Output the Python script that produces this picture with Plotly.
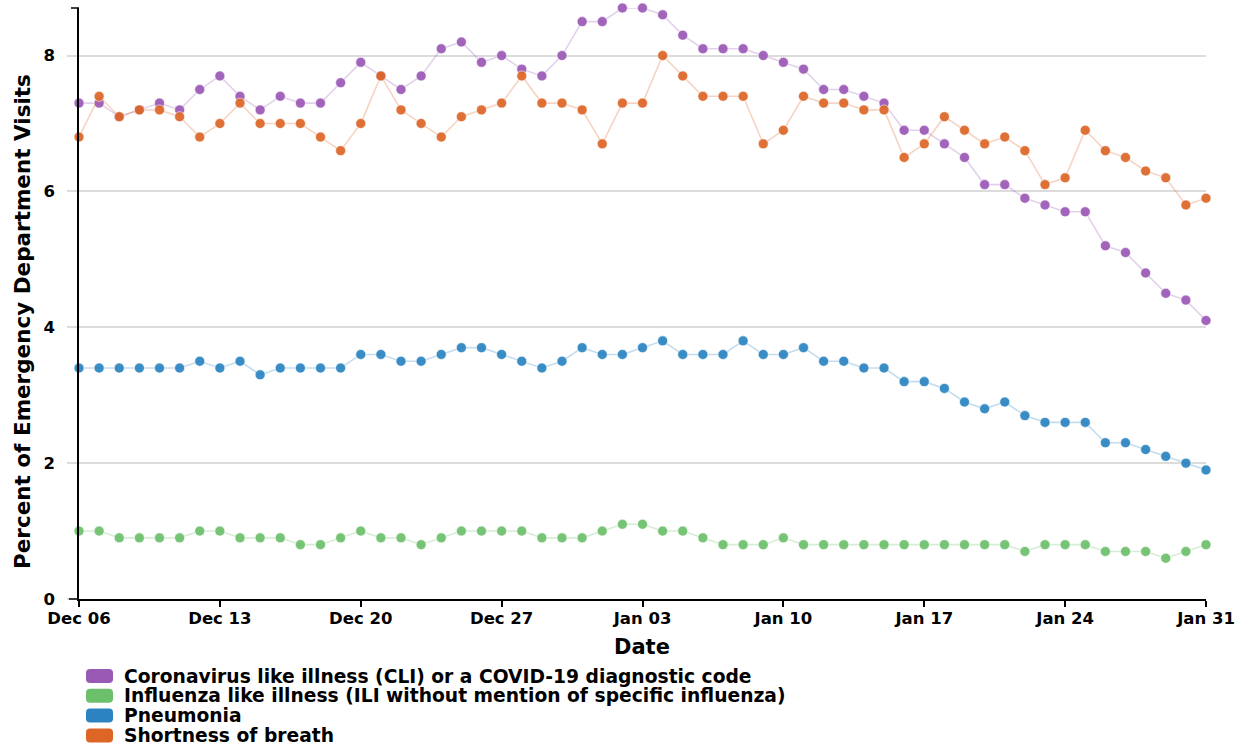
import pandas as pd
import plotly.graph_objects as go

# daily dates, Dec 06 to Jan 31
start_date = "2020-12-06"
end_date = "2021-01-31"
dates = pd.date_range(start_date, end_date, freq="D")

cli = [7.3, 7.3, 7.1, 7.2, 7.3, 7.2, 7.5, 7.7, 7.4, 7.2,
       7.4, 7.3, 7.3, 7.6, 7.9, 7.7, 7.5, 7.7, 8.1, 8.2,
       7.9, 8.0, 7.8, 7.7, 8.0, 8.5,
       8.5, 8.7, 8.7, 8.6, 8.3, 8.1, 8.1, 8.1, 8.0, 7.9,
       7.8, 7.5, 7.5, 7.4, 7.3, 6.9, 6.9, 6.7, 6.5, 6.1,
       6.1, 5.9, 5.8, 5.7, 5.7, 5.2, 5.1, 4.8, 4.5, 4.4,
       4.1]
ili = [1.0, 1.0, 0.9, 0.9, 0.9, 0.9, 1.0, 1.0, 0.9, 0.9,
       0.9, 0.8, 0.8, 0.9, 1.0, 0.9, 0.9, 0.8, 0.9, 1.0,
       1.0, 1.0, 1.0, 0.9, 0.9, 0.9,
       1.0, 1.1, 1.1, 1.0, 1.0, 0.9, 0.8, 0.8, 0.8, 0.9,
       0.8, 0.8, 0.8, 0.8, 0.8, 0.8, 0.8, 0.8, 0.8, 0.8,
       0.8, 0.7, 0.8, 0.8, 0.8, 0.7, 0.7, 0.7, 0.6, 0.7,
       0.8]
pneumonia = [3.4, 3.4, 3.4, 3.4, 3.4, 3.4, 3.5, 3.4, 3.5, 3.3,
             3.4, 3.4, 3.4, 3.4, 3.6, 3.6, 3.5, 3.5, 3.6, 3.7,
             3.7, 3.6, 3.5, 3.4, 3.5, 3.7,
             3.6, 3.6, 3.7, 3.8, 3.6, 3.6, 3.6, 3.8, 3.6, 3.6,
             3.7, 3.5, 3.5, 3.4, 3.4, 3.2, 3.2, 3.1, 2.9, 2.8,
             2.9, 2.7, 2.6, 2.6, 2.6, 2.3, 2.3, 2.2, 2.1, 2.0,
             1.9]
breath = [6.8, 7.4, 7.1, 7.2, 7.2, 7.1, 6.8, 7.0, 7.3, 7.0,
          7.0, 7.0, 6.8, 6.6, 7.0, 7.7, 7.2, 7.0, 6.8, 7.1,
          7.2, 7.3, 7.7, 7.3, 7.3, 7.2,
          6.7, 7.3, 7.3, 8.0, 7.7, 7.4, 7.4, 7.4, 6.7, 6.9,
          7.4, 7.3, 7.3, 7.2, 7.2, 6.5, 6.7, 7.1, 6.9, 6.7,
          6.8, 6.6, 6.1, 6.2, 6.9, 6.6, 6.5, 6.3, 6.2, 5.8,
          5.9]

names = ["Coronavirus like illness (CLI) or a COVID-19 diagnostic code",
         "Influenza like illness (ILI without mention of specific influenza)",
         "Pneumonia",
         "Shortness of breath"]
colors = ["#9B59B6", "#6CC06C", "#2B84C1", "#DD6627"]
line_colors = ["rgba(155,89,182,0.28)", "rgba(108,192,108,0.28)",
               "rgba(43,132,193,0.28)", "rgba(221,102,39,0.28)"]
series = [cli, ili, pneumonia, breath]

FONT = "DejaVu Sans"
W, H = 1247, 746
L, R, T, B = 79, 1206, 8, 599


def px_x(x):
    return (x - L) / (R - L)


def px_y(y):
    return (B - y) / (B - T)


def rounded_rect(x0, y0, x1, y1, r):
    # pixel box -> paper path with rounded corners
    pts = [
        f"M {px_x(x0 + r)},{px_y(y0)}",
        f"L {px_x(x1 - r)},{px_y(y0)}",
        f"Q {px_x(x1)},{px_y(y0)} {px_x(x1)},{px_y(y0 + r)}",
        f"L {px_x(x1)},{px_y(y1 - r)}",
        f"Q {px_x(x1)},{px_y(y1)} {px_x(x1 - r)},{px_y(y1)}",
        f"L {px_x(x0 + r)},{px_y(y1)}",
        f"Q {px_x(x0)},{px_y(y1)} {px_x(x0)},{px_y(y1 - r)}",
        f"L {px_x(x0)},{px_y(y0 + r)}",
        f"Q {px_x(x0)},{px_y(y0)} {px_x(x0 + r)},{px_y(y0)}",
        "Z",
    ]
    return " ".join(pts)


fig = go.Figure()
for name, vals, c, lc in zip(names, series, colors, line_colors):
    fig.add_trace(go.Scatter(
        x=dates, y=vals, name=name, mode="lines+markers",
        line=dict(color=lc, width=1.6),
        marker=dict(color=c, size=10, opacity=0.92,
                    line=dict(color="rgba(255,255,255,0.6)", width=1)),
        cliponaxis=False, showlegend=False,
    ))

fig.update_xaxes(
    type="date", range=[start_date, end_date],
    tick0=start_date, dtick=7 * 86400000, tickformat="%b %d",
    showgrid=False, zeroline=False,
    showline=True, linecolor="black", linewidth=1.5,
    ticks="outside", ticklen=6, tickcolor="black", tickwidth=1.5,
    ticklabelstandoff=-3,
    tickfont=dict(family=FONT, size=16.5, color="black", weight="bold"),
)
fig.update_yaxes(
    range=[0, 8.7], tickvals=[0, 2, 4, 6, 8],
    showgrid=True, gridcolor="#dcdcdc", gridwidth=2, zeroline=False,
    showline=True, linecolor="black", linewidth=1.5,
    ticks="outside", ticklen=10, tickcolor="#dcdcdc", tickwidth=2,
    ticklabelstandoff=9,
    tickfont=dict(family=FONT, size=16.5, color="black", weight="bold"),
)

shapes = [
    # axis end caps
    dict(type="line", xref="paper", yref="paper",
         x0=px_x(71), x1=px_x(79), y0=px_y(T), y1=px_y(T),
         line=dict(color="black", width=1.5)),
    dict(type="line", xref="paper", yref="paper",
         x0=px_x(69), x1=px_x(79), y0=0, y1=0,
         line=dict(color="black", width=1.5)),
]
annotations = [
    dict(text="Percent of Emergency Department Visits", textangle=-90,
         xref="paper", yref="paper", x=px_x(22), y=px_y(322),
         xanchor="center", yanchor="middle", showarrow=False,
         font=dict(family=FONT, size=21.5, color="black", weight="bold")),
    dict(text="Date", xref="paper", yref="paper", x=px_x(642), y=px_y(647),
         xanchor="center", yanchor="middle", showarrow=False,
         font=dict(family=FONT, size=21, color="black", weight="bold")),
]

# legend drawn by hand for tight row spacing
for i, (name, c) in enumerate(zip(names, colors)):
    cy = 676 + i * 19.8
    shapes.append(dict(type="path", xref="paper", yref="paper",
                       path=rounded_rect(86, cy - 7, 113, cy + 7, 4),
                       fillcolor=c, line=dict(width=0)))
    annotations.append(dict(text=name, xref="paper", yref="paper",
                            x=px_x(122), y=px_y(cy), xanchor="left",
                            yanchor="middle", showarrow=False,
                            font=dict(family=FONT, size=18.7, color="black",
                                      weight="bold")))

fig.update_layout(
    width=W, height=H,
    margin=dict(l=L, r=W - R, t=T, b=H - B),
    plot_bgcolor="white", paper_bgcolor="white",
    shapes=shapes, annotations=annotations,
    showlegend=False,
)

fig.write_html("out.html", config={"displayModeBar": False},
               post_script="document.body.style.margin='0px';")
